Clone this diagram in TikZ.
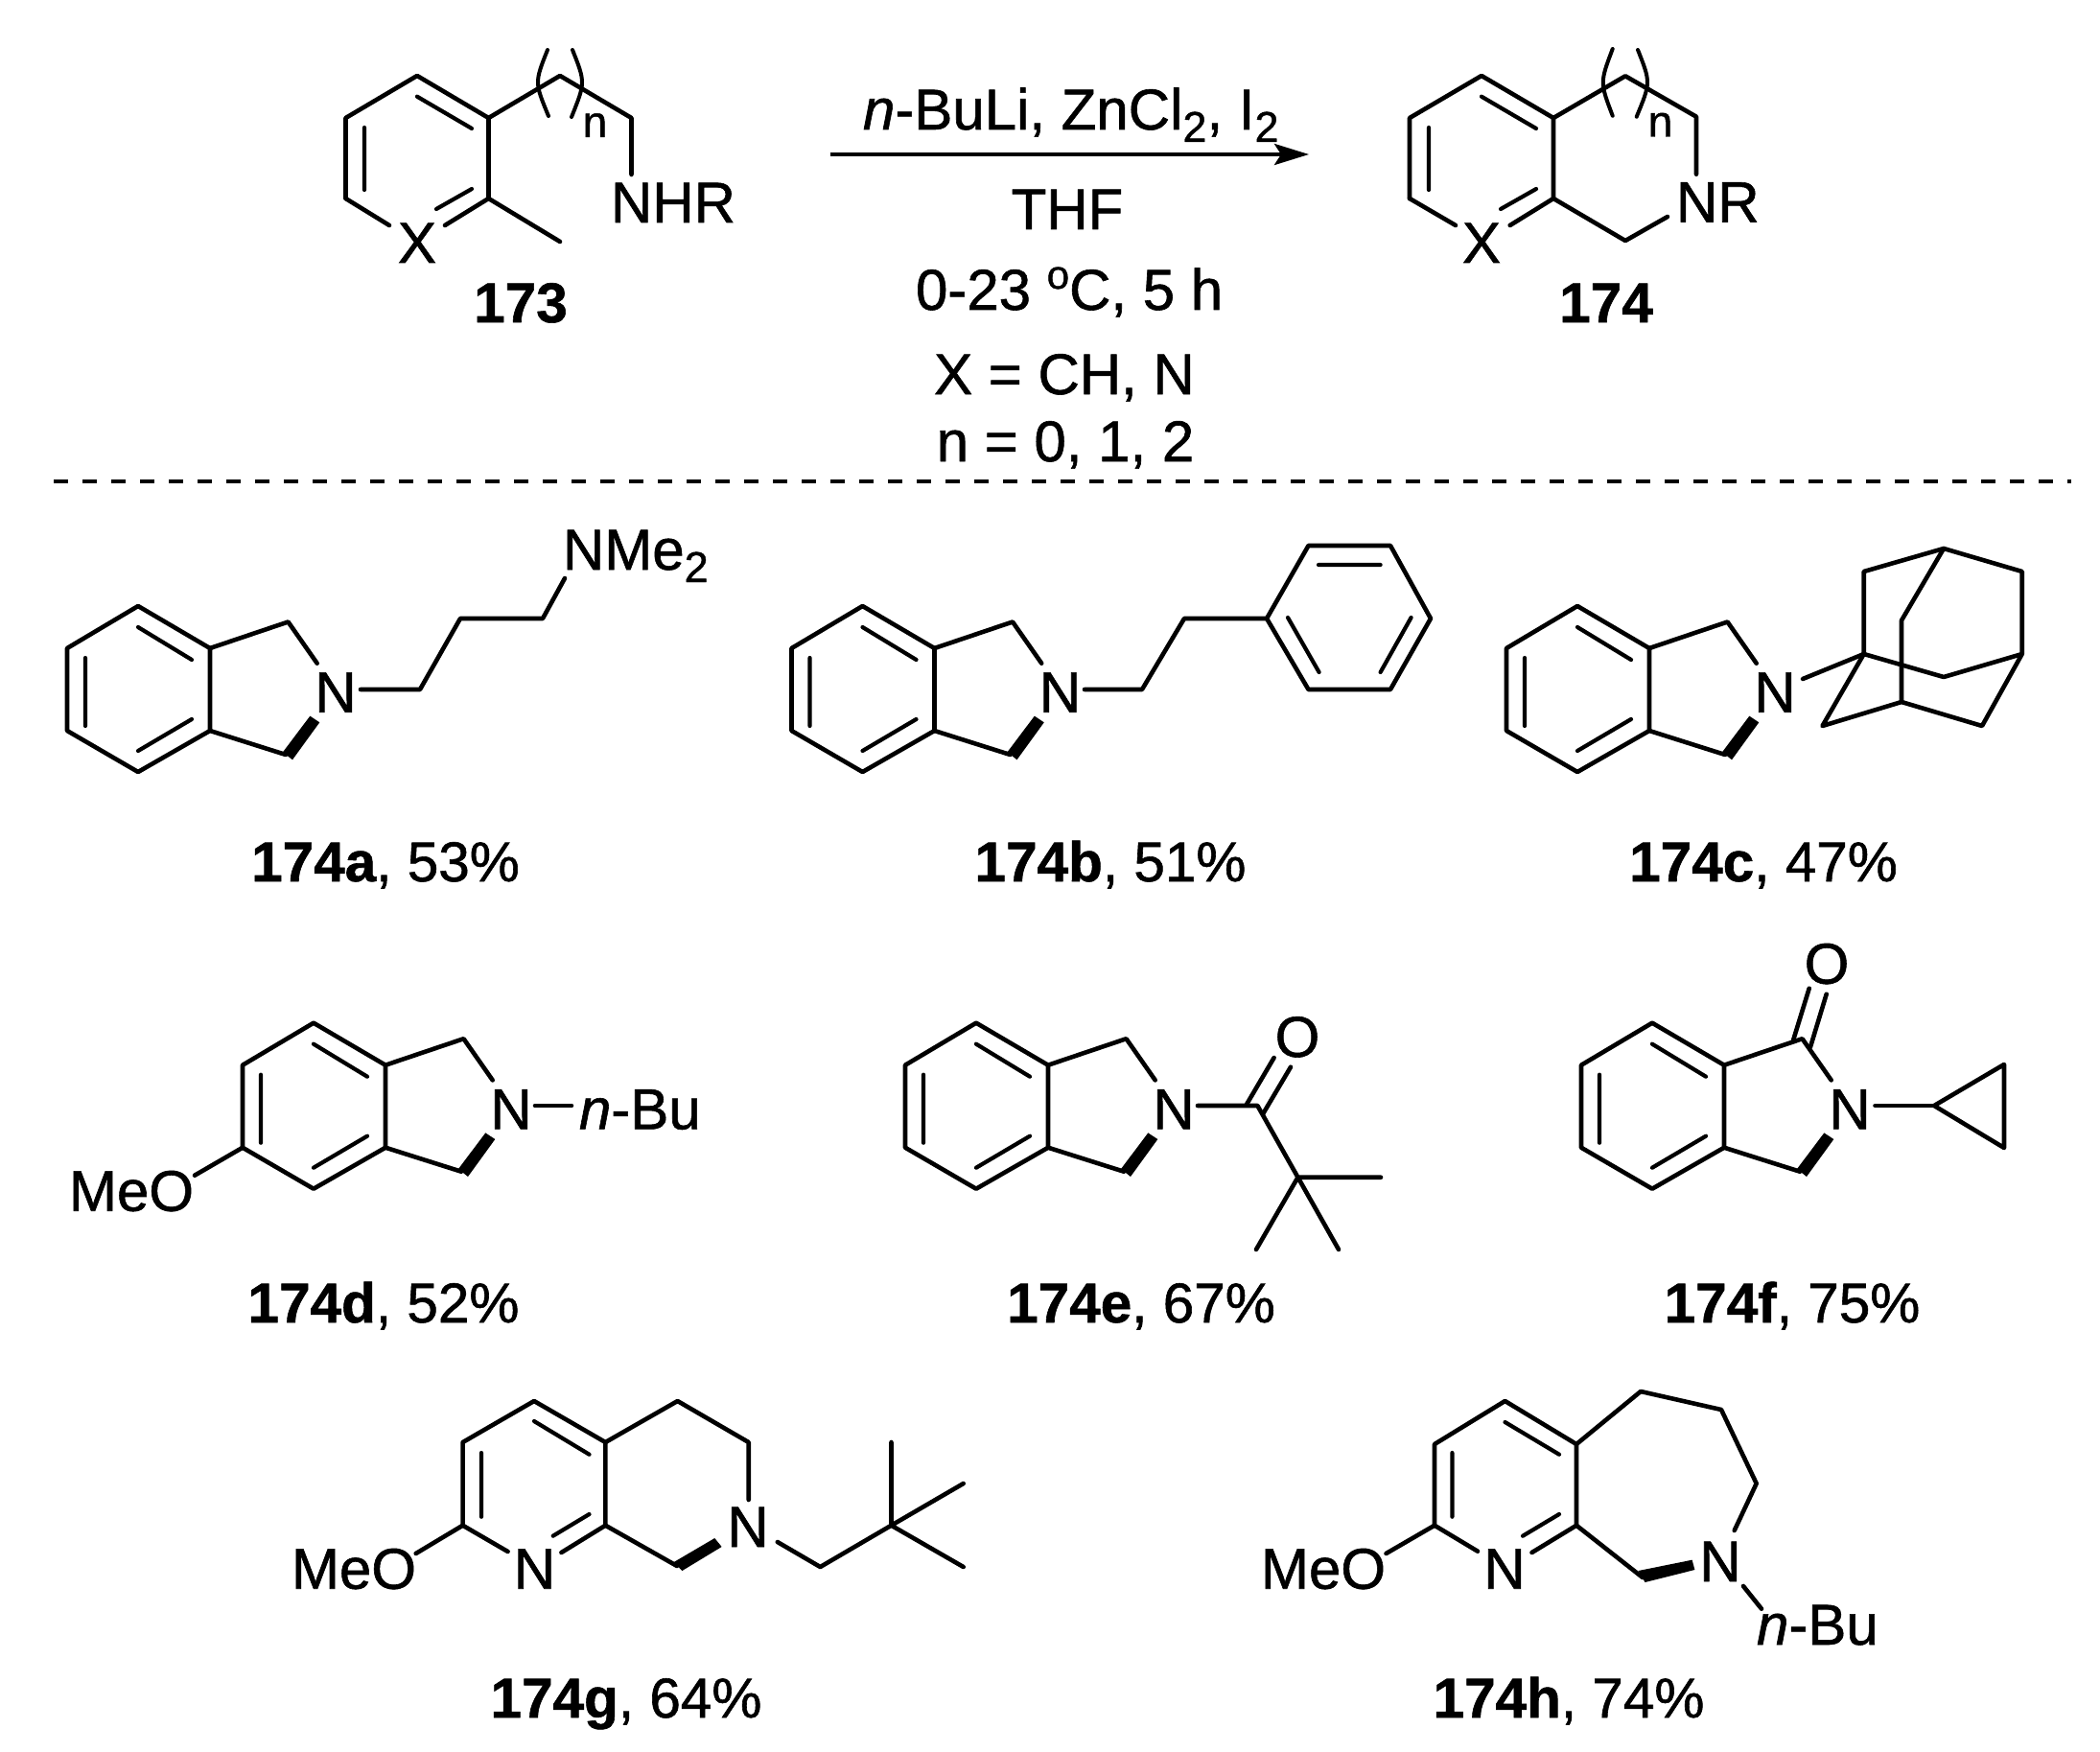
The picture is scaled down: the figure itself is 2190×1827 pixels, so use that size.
\documentclass[tikz,border=0pt]{standalone}
\usepackage{fontspec}
\setmainfont{Liberation Sans}[RawFeature={embolden=1}]
\usetikzlibrary{arrows.meta}
\newcommand{\bigf}{\fontsize{60}{72}\selectfont}
\newcommand{\lblf}{\fontsize{58.5}{72}\selectfont}
\newcommand{\subf}[1]{\raisebox{-13pt}{\fontsize{45}{54}\selectfont #1}}
\tikzset{
  x=1pt,y=-1pt,
  bond/.style={line width=4.6pt,line cap=round,line join=round,black},
  dbl/.style={line width=4.2pt,line cap=round,black},
  paren/.style={line width=4pt,line cap=round,black},
  bold bond/.style={fill=black,draw=none},
  atom/.style={anchor=base,inner sep=0pt,outer sep=0pt,font=\bigf,text=black},
  atomw/.style={anchor=base west,inner sep=0pt,outer sep=0pt,font=\bigf,text=black},
  cond/.style={anchor=base,inner sep=0pt,outer sep=0pt,font=\bigf,text=black},
  cpd/.style={anchor=base,inner sep=0pt,outer sep=0pt,font=\lblf,text=black},
}
% isoindoline core: benzene ring and the ring carbons, origin as in 174a
\newcommand{\benzo}{%
  \draw[bond] (144,632)--(219,676)--(219,762)--(144,805)--(70,762)--(70,676)--cycle;
  \draw[dbl] (144,654)--(200,688) (89,686)--(89,757) (200,750)--(144,783);
}
\newcommand{\core}{%
  \benzo
  \draw[bond] (219,676)--(300.5,648.5)--(330.7,691.7);
  \draw[bond] (219,762)--(298,787);
  \fill[bold bond] (295,784.3)--(305,792.3)--(333.3,753.3)--(323.3,746.7)--cycle;
}
\begin{document}
\begin{tikzpicture}
\useasboundingbox (0,0) rectangle (2190,1827);
\fill[white] (0,0) rectangle (2190,1827);

% ---------- 173
\draw[bond] (360.5,207)--(360.5,123)--(435,79)--(509.5,123)--(509.5,207);
\draw[bond] (360.5,207)--(406,235) (509.5,207)--(464,235);
\draw[dbl] (435,100.7)--(492,134) (380,133)--(380,198) (492,197)--(455,218);
\draw[bond] (509.5,123)--(584,79)--(658.5,123)--(658.5,182);
\draw[bond] (509.5,207)--(584,252);
\draw[paren] (571,52) .. controls (557.5,86) .. (572,121);
\draw[paren] (597,52) .. controls (610.5,86) .. (596,122);
\node[atom] (x173) at (435,274) {X};
\node[atomw] (nhr) at (637,232) {NHR};
\node[anchor=base,inner sep=0pt,font=\fontsize{46}{50}\selectfont] (n173) at (620.5,143) {n};
\node[cpd] (l173) at (543,336) {\textbf{173}};

% ---------- arrow and conditions
\coordinate (arrS) at (865.6,161);
\coordinate (arrE) at (1365,161);
\draw[line width=4pt,-{Stealth[length=36pt,width=22pt,inset=7pt]}] (arrS)--(arrE);
\node[atomw] (c1) at (900,135) {\textit{n}-BuLi, ZnCl\subf{2}, I\subf{2}};
\node[cond] (c2) at (1113,239) {THF};
\node[atomw] (c3) at (955,323) {0-23 \raisebox{22pt}{\fontsize{42}{50}\selectfont o}C, 5 h};
\node[cond] (c4) at (1110,411) {X = CH, N};
\node[cond] (c5) at (1111,481) {n = 0, 1, 2};
\coordinate (dashS) at (56,502);
\coordinate (dashE) at (2160,502);
\draw[line width=3.6pt,dash pattern=on 15pt off 15pt] (dashS)--(dashE);

% ---------- 174
\draw[bond] (1470,207)--(1470,123)--(1545,79)--(1620,123)--(1620,207);
\draw[bond] (1470,207)--(1518,235) (1620,207)--(1574.7,235);
\draw[dbl] (1545,100.7)--(1602,134) (1490,133)--(1490,198) (1602,197)--(1565,218);
\draw[bond] (1620,123)--(1695,79.3)--(1769,121.7)--(1769,181.7);
\draw[bond] (1620,207)--(1695,251)--(1739,226);
\draw[paren] (1681.7,51) .. controls (1668.5,86) .. (1681.7,120.7);
\draw[paren] (1708,52) .. controls (1721.5,86) .. (1706.7,121.7);
\node[atom] (x174) at (1545,274) {X};
\node[atomw] (nr) at (1748,231.5) {NR};
\node[anchor=base,inner sep=0pt,font=\fontsize{46}{50}\selectfont] (n174) at (1731.5,142.5) {n};
\node[cpd] (l174) at (1675,336) {\textbf{174}};

% ---------- 174a
\core
\draw[bond] (376,719)--(438,719)--(480,645)--(566,645)--(589,603);
\node[atom] (na) at (350,742.7) {N};
\node[atomw] (nme) at (587,594) {NMe\subf{2}};
\node[cpd] (la) at (402,919) {\textbf{174a}, 53\%};

% ---------- 174b
\begin{scope}[shift={(755.5,0)}] \core \end{scope}
\draw[bond] (1131,719)--(1191,719)--(1235,645)--(1321,645);
\draw[bond] (1321,645)--(1364.5,569)--(1450,569)--(1492,645)--(1450,719)--(1364.5,719)--cycle;
\draw[dbl] (1375,589)--(1439.6,589) (1343,644)--(1375.6,701) (1471.6,644)--(1439.6,701);
\node[atom] (nb) at (1105.5,742.7) {N};
\node[cpd] (lb) at (1158,919) {\textbf{174b}, 51\%};

% ---------- 174c
\begin{scope}[shift={(1501,0)}] \core \end{scope}
\draw[bond] (1880,708)--(1943.7,682);
\draw[bond] (1943.7,682)--(1943.7,596)--(2027,572)--(2108.7,596)--(2108.7,682)--(2027,706)--cycle;
\draw[bond] (2027,572)--(1983,647)--(1983,732)--(1900.5,757)--(1943.7,682);
\draw[bond] (1983,732)--(2067,757)--(2108.7,682);
\node[atom] (nc) at (1851,742.7) {N};
\node[cpd] (lc) at (1839,919) {\textbf{174c}, 47\%};

% ---------- 174d
\begin{scope}[shift={(183,434.7)}] \core \end{scope}
\draw[bond] (558,1153)--(596,1153);
\draw[bond] (253,1196.7)--(203,1225.7);
\node[atom] (nd) at (533,1177.4) {N};
\node[atomw] (bud) at (604,1177.4) {\textit{n}-Bu};
\node[atomw] (meod) at (72,1262.7) {MeO};
\node[cpd] (ld) at (400,1379) {\textbf{174d}, 52\%};

% ---------- 174e
\begin{scope}[shift={(874,434.7)}] \core \end{scope}
\draw[bond] (1249,1153)--(1311.4,1153)--(1353.5,1227.7)--(1440,1227.7);
\draw[bond] (1310,1303)--(1353.5,1227.7)--(1396,1303);
\draw[bond] (1300,1151.7)--(1328.6,1103) (1317,1161.7)--(1346,1112.7);
\node[atom] (ne) at (1224,1177.4) {N};
\node[atom] (oe) at (1353,1102) {O};
\node[cpd] (le) at (1190,1379) {\textbf{174e}, 67\%};

% ---------- 174f
\begin{scope}[shift={(1579,434.7)}] \core \end{scope}
\draw[bond] (1870,1085)--(1886.7,1030.7) (1888,1091.7)--(1904.7,1036.7);
\draw[bond] (1955.5,1153)--(2017,1153);
\draw[bond] (2017,1153)--(2090,1110)--(2090,1197)--cycle;
\node[atom] (nf) at (1929,1177.4) {N};
\node[atom] (of) at (1905,1025.7) {O};
\node[cpd] (lf) at (1869,1379) {\textbf{174f}, 75\%};

% ---------- 174g
\draw[bond] (529.6,1618)--(482.6,1590.7)--(482.6,1504)--(557,1461)--(631.4,1504)--(631.4,1590.7)--(585.4,1619);
\draw[dbl] (557,1482)--(614.5,1516.7) (502,1515)--(502,1581.7) (614.5,1579)--(576.7,1601.7);
\draw[bond] (482.6,1590.7)--(433.7,1620);
\draw[bond] (631.4,1504)--(706.6,1461)--(780.7,1504)--(780.7,1564);
\draw[bond] (631.4,1590.7)--(706,1633);
\fill[bold bond] (702.7,1629)--(711.4,1638)--(752.6,1613)--(745.3,1604)--cycle;
\draw[bond] (810.8,1608)--(855.4,1634)--(929.5,1590.7)--(929.5,1504);
\draw[bond] (929.5,1590.7)--(1004.7,1547) (929.5,1590.7)--(1004.7,1634);
\node[atom] (ng1) at (557.5,1656.7) {N};
\node[atom] (ng2) at (780,1613) {N};
\node[atomw] (meog) at (304,1656.7) {MeO};
\node[cpd] (lg) at (653,1791) {\textbf{174g}, 64\%};

% ---------- 174h
\draw[bond] (1541,1617.7)--(1496,1590.7)--(1496,1506)--(1569.5,1461)--(1644,1506)--(1644,1590.7)--(1597.5,1619);
\draw[dbl] (1569.5,1483)--(1626,1516.7) (1514.4,1515)--(1514.4,1581.7) (1626,1579)--(1588,1601.7);
\draw[bond] (1496,1590.7)--(1445.5,1620);
\draw[bond] (1644,1506)--(1711,1451)--(1795,1470)--(1831.7,1547)--(1808.7,1596);
\draw[bond] (1644,1590.7)--(1713,1645);
\fill[bold bond] (1708.6,1638)--(1715.5,1650)--(1767.4,1637)--(1764.6,1626.7)--cycle;
\draw[bond] (1818,1654)--(1837,1677.7);
\node[atom] (nh1) at (1569,1656.7) {N};
\node[atom] (nh2) at (1794,1649) {N};
\node[atomw] (buh) at (1832,1715) {\textit{n}-Bu};
\node[atomw] (meoh) at (1315,1656.7) {MeO};
\node[cpd] (lh) at (1636,1791) {\textbf{174h}, 74\%};
\end{tikzpicture}
\end{document}
